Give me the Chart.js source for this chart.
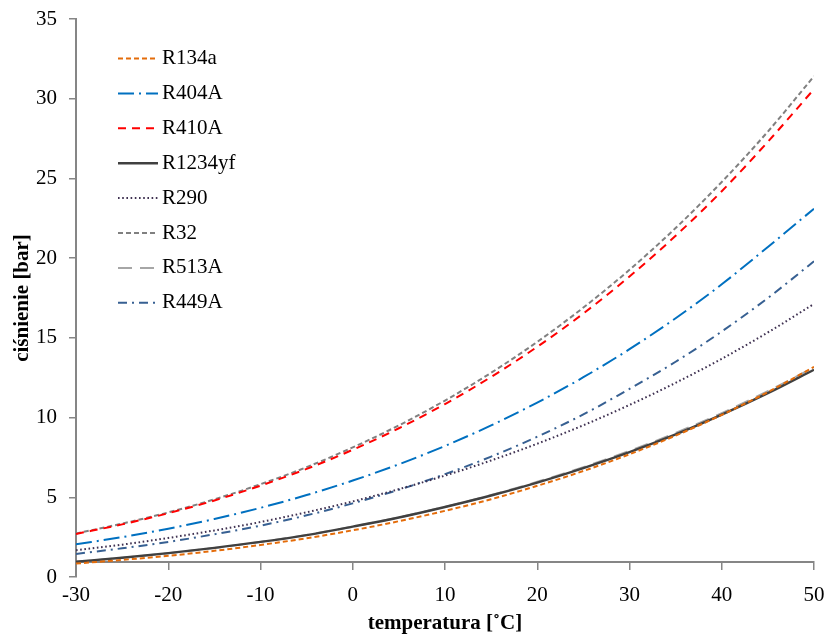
<!DOCTYPE html>
<html>
<head>
<meta charset="utf-8">
<script src="https://cdn.jsdelivr.net/npm/chart.js@4/dist/chart.umd.min.js"></script>
<style>
  html, body { margin: 0; padding: 0; background: #fff; }
  #wrap { width: 827px; height: 636px; position: relative; }
</style>
</head>
<body>
<div id="wrap"><canvas id="c"></canvas></div>
<script>
// Temperature (°C)
const temps = [-30, -25, -20, -15, -10, -5, 0, 5, 10, 15, 20, 25, 30, 35, 40, 45, 50];
// Pressures (bar)
const R134a   = [0.84, 1.07, 1.33, 1.64, 2.01, 2.43, 2.93, 3.50, 4.15, 4.88, 5.72, 6.65, 7.70, 8.87, 10.17, 11.60, 13.18];
const R404A   = [2.05, 2.50, 3.03, 3.64, 4.34, 5.14, 6.05, 7.07, 8.22, 9.51, 10.94, 12.53, 14.29, 16.23, 18.36, 20.70, 23.10];
const R410A   = [2.70, 3.30, 4.00, 4.80, 5.73, 6.78, 7.98, 9.33, 10.85, 12.55, 14.44, 16.53, 18.85, 21.40, 24.20, 27.30, 30.60];
const R1234yf = [0.96, 1.21, 1.50, 1.83, 2.20, 2.63, 3.16, 3.73, 4.39, 5.11, 5.92, 6.83, 7.83, 8.94, 10.18, 11.53, 13.00];
const R290    = [1.68, 2.03, 2.45, 2.92, 3.45, 4.06, 4.74, 5.51, 6.36, 7.31, 8.36, 9.52, 10.79, 12.18, 13.69, 15.34, 17.13];
const R32     = [2.73, 3.35, 4.05, 4.87, 5.82, 6.89, 8.13, 9.51, 11.07, 12.81, 14.75, 16.90, 19.27, 21.89, 24.78, 27.94, 31.41];
const R513A   = [0.95, 1.20, 1.49, 1.82, 2.20, 2.64, 3.16, 3.74, 4.40, 5.14, 5.97, 6.89, 7.91, 9.04, 10.28, 11.66, 13.15];
const R449A   = [1.45, 1.80, 2.20, 2.68, 3.22, 3.87, 4.62, 5.47, 6.45, 7.55, 8.80, 10.20, 11.80, 13.50, 15.40, 17.50, 19.80];

const seriesNames = ['R134a', 'R404A', 'R410A', 'R1234yf', 'R290', 'R32', 'R513A', 'R449A'];
const seriesData  = [R134a, R404A, R410A, R1234yf, R290, R32, R513A, R449A];
const xTickStep = 10, yTickStep = 5;

const styles = [
  { color: '#E46C0A', dash: [5, 3],        width: 2 },
  { color: '#0070C0', dash: [16, 5, 2, 5], width: 2 },
  { color: '#FF0000', dash: [8, 6],        width: 2 },
  { color: '#404040', dash: [],            width: 2.4 },
  { color: '#3F3151', dash: [1.6, 2.6],    width: 2 },
  { color: '#808080', dash: [5, 3],        width: 2 },
  { color: '#A6A6A6', dash: [14, 8],       width: 2 },
  { color: '#376092', dash: [9, 5, 2, 5],  width: 2 }
];

const datasets = seriesNames.map((name, i) => ({
  label: name,
  data: temps.map((t, k) => ({ x: t, y: seriesData[i][k] })),
  borderColor: styles[i].color,
  backgroundColor: styles[i].color,
  borderDash: styles[i].dash,
  borderWidth: styles[i].width,
  pointRadius: 0,
  fill: false,
  cubicInterpolationMode: 'monotone'
}));

const inlineLegend = {
  id: 'inlineLegend',
  afterDatasetsDraw(chart) {
    const { ctx, chartArea } = chart;
    const x0 = chartArea.left + 42, x1 = x0 + 40, tx = x1 + 4;
    let y = chartArea.top + 39.5;
    chart.data.datasets.forEach(ds => {
      ctx.save();
      ctx.strokeStyle = ds.borderColor;
      ctx.lineWidth = ds.borderWidth;
      ctx.setLineDash(ds.borderDash || []);
      ctx.beginPath();
      ctx.moveTo(x0, y);
      ctx.lineTo(x1, y);
      ctx.stroke();
      ctx.setLineDash([]);
      ctx.fillStyle = '#000';
      ctx.font = '21px "Liberation Serif"';
      ctx.textBaseline = 'middle';
      ctx.textAlign = 'left';
      ctx.fillText(ds.label, tx, y);
      ctx.restore();
      y += 34.9;
    });
  }
};

const axisGray = '#868686';
const tickFont = { family: '"Liberation Serif", "Times New Roman", serif', size: 21 };
const titleFont = { family: '"Liberation Serif", "Times New Roman", serif', size: 21, weight: 'bold' };

new Chart(document.getElementById('c'), {
  type: 'line',
  data: { datasets },
  plugins: [inlineLegend],
  options: {
    responsive: true,
    maintainAspectRatio: false,
    animation: false,
    devicePixelRatio: 1,
    layout: { padding: { top: 19, right: 13, bottom: 59, left: 0 } },
    plugins: { legend: { display: false }, tooltip: { enabled: false } },
    scales: {
      x: {
        type: 'linear',
        position: { y: 0.94 },
        min: -30, max: 50,
        afterFit(s) { s.paddingRight = 0; s.paddingLeft = 0; },
        ticks: { stepSize: xTickStep, color: '#000', font: tickFont, padding: 14, maxRotation: 0 },
        grid: { drawOnChartArea: false, drawTicks: true, tickLength: 7, color: axisGray, lineWidth: 1.5 },
        border: { display: true, color: axisGray, width: 2 },
        title: { display: true, text: 'temperatura [˚C]', color: '#000', font: titleFont, padding: { top: -11, bottom: 0 } }
      },
      y: {
        type: 'linear',
        position: 'left',
        min: 0, max: 35,
        afterFit(s) { s.width = 76; s.paddingTop = 0; s.paddingBottom = 0; },
        ticks: { stepSize: yTickStep, color: '#000', font: tickFont, padding: 12 },
        grid: { drawOnChartArea: false, drawTicks: true, tickLength: 7, color: axisGray, lineWidth: 1.5 },
        border: { display: true, color: axisGray, width: 2 },
        title: { display: true, text: 'ciśnienie [bar]', color: '#000', font: titleFont, padding: { top: 10, bottom: 0 } }
      }
    }
  }
});
</script>
</body>
</html>
